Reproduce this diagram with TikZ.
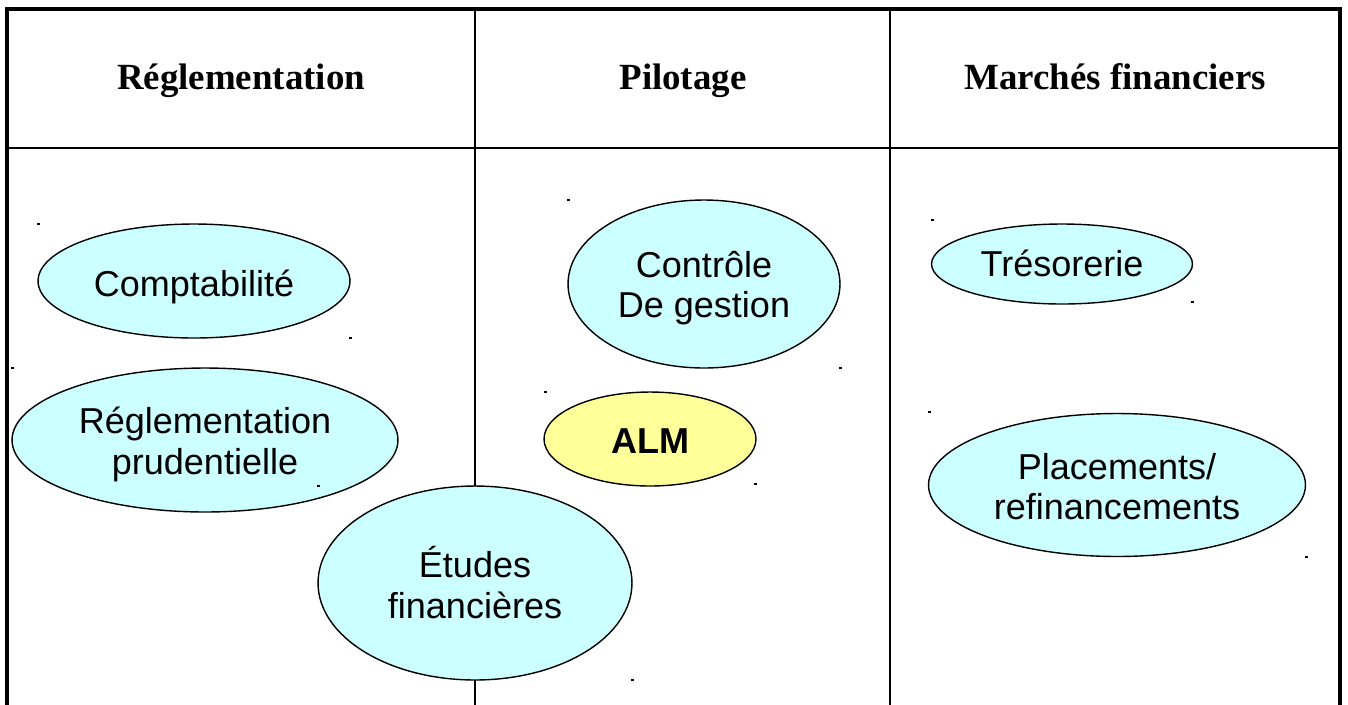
\documentclass[tikz,border=0pt]{standalone}
\usepackage{fontspec}
\setmainfont{Liberation Serif}
\setsansfont{Liberation Sans}
\usetikzlibrary{shapes.geometric, calc}

\definecolor{bulle}{HTML}{CCFFFF}
\definecolor{alm}{HTML}{FFFF99}

\begin{document}
\begin{tikzpicture}[
  x=0.02cm, y=-0.02cm,
  cadre/.style={line width=2pt},
  trait/.style={line width=1.2pt},
  titre/.style={font=\fontsize{21}{25}\selectfont\bfseries, anchor=base, inner sep=0pt},
  metier/.style={draw, ellipse, line width=0.8pt, fill=#1, inner sep=0pt},
  metier/.default=bulle,
  libelle/.style={align=center, inner sep=0pt, font=\sffamily\fontsize{20.5}{23}\selectfont},
]
\useasboundingbox (0,0) rectangle (1348,704);
\clip (0,0) rectangle (1348,704);

% Grille du tableau
\draw[cadre] (7,720) -- (7,9) -- (1340,9) -- (1340,720);
\draw[trait] (7,148) -- (1340,148);
\draw[trait] (475,9) -- (475,720);
\draw[trait] (890,9) -- (890,720);

% En-tetes
\node[titre] (h1) at (241,89) {Réglementation};
\node[titre] (h2) at (683,89) {Pilotage};
\node[titre] (h3) at (1115,89) {Marchés financiers};

% Réglementation
\node[metier, minimum width=6.24cm, minimum height=2.28cm] (compta) at (194,281) {};
\node[metier, minimum width=7.72cm, minimum height=2.88cm] (prud) at (205,440) {};
\node[metier, minimum width=6.28cm, minimum height=3.88cm] (etudes) at (475,583) {};
\node[libelle] (tcompta) at ($(compta)+(0,6)$) {Comptabilité};
\node[libelle] (tprud) at ($(prud)+(0,4.5)$) {Réglementation\\prudentielle};
\node[libelle] (tetudes) at ($(etudes)+(0,-0.5)$) {Études\\financières};

% Pilotage
\node[metier, minimum width=5.44cm, minimum height=3.36cm] (cdg) at (704,284) {};
\node[metier=alm, minimum width=4.24cm, minimum height=1.88cm] (alm) at (650,439) {};
\node[libelle] (tcdg) at ($(cdg)+(0,4)$) {Contrôle\\De gestion};
\node[libelle, font=\sffamily\bfseries\fontsize{20.5}{23}\selectfont] (talm) at ($(alm)+(0,2)$) {ALM};

% Marchés financiers
\node[metier, minimum width=5.22cm, minimum height=1.6cm] (treso) at (1062,264) {};
\node[metier, minimum width=7.54cm, minimum height=2.86cm] (plac) at (1117,485) {};
\node[libelle] (ttreso) at ($(treso)+(0,-1)$) {Trésorerie};
\node[libelle] (tplac) at ($(plac)+(0,1.5)$) {Placements/\\refinancements};

% petits reperes
\foreach \px/\py in {38/224, 350/338, 12/368, 318/486, 568/200, 545/392,
  840/368, 755/484, 632/680, 932/220, 1192/302, 929/412, 1306/557}
  \fill (\px-1,\py-1) rectangle (\px+1.5,\py+1);
\end{tikzpicture}
\end{document}
